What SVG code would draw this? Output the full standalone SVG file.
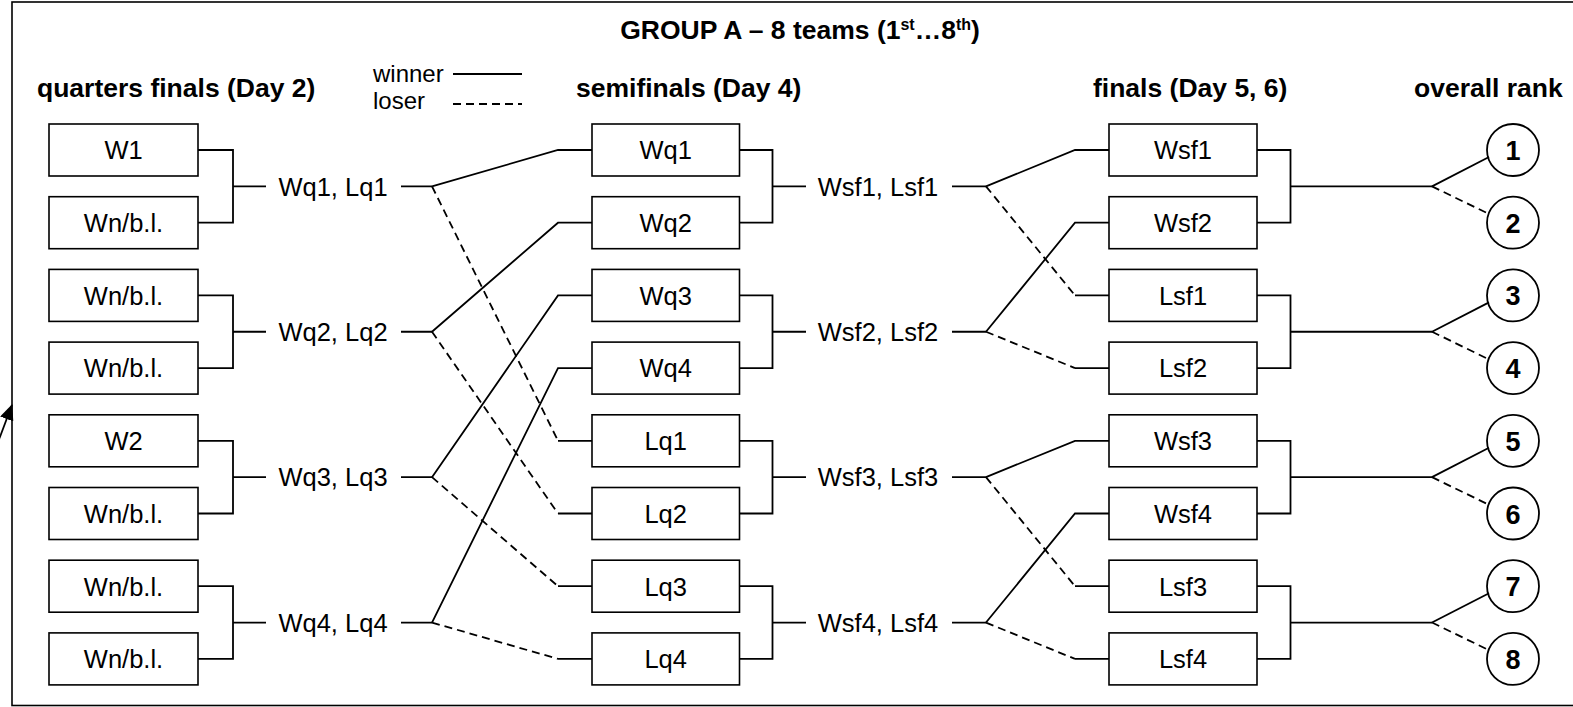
<svg xmlns="http://www.w3.org/2000/svg" width="1573" height="707" viewBox="0 0 1573 707">
<style>
.box{fill:#fff;stroke:#000;stroke-width:1.6}
.ln{fill:none;stroke:#000;stroke-width:1.8}
.ds{fill:none;stroke:#000;stroke-width:1.8;stroke-dasharray:8,5}
.t{font-family:"Liberation Sans",Arial,sans-serif;font-size:25.5px;fill:#000;text-anchor:middle}
.lg{font-family:"Liberation Sans",Arial,sans-serif;font-size:24px;fill:#000}
.h{font-family:"Liberation Sans",Arial,sans-serif;font-size:26.5px;font-weight:bold;fill:#000}
.c{fill:#fff;stroke:#000;stroke-width:1.8}
.n{font-family:"Liberation Sans",Arial,sans-serif;font-size:27px;font-weight:bold;fill:#000;text-anchor:middle}
</style>
<defs>
<marker id="ah" markerWidth="16" markerHeight="14" refX="15" refY="7" orient="auto" markerUnits="userSpaceOnUse"><path d="M0,0 L16,7 L0,14 z" fill="#000"/></marker>
</defs>
<rect x="12" y="2" width="1570" height="703.5" fill="#fff" stroke="#000" stroke-width="1.6"/>
<line x1="-2" y1="442" x2="12" y2="405" stroke="#000" stroke-width="1.8" marker-end="url(#ah)"/>

<g id="title">
<text class="h" x="800" y="39" text-anchor="middle">GROUP A – 8 teams (1<tspan font-size="16" dy="-9">st</tspan><tspan dy="9">…8</tspan><tspan font-size="16" dy="-9">th</tspan><tspan dy="9">)</tspan></text>
</g>
<g id="headers">
<text class="h" x="37" y="97">quarters finals (Day 2)</text>
<text class="h" x="576" y="97">semifinals (Day 4)</text>
<text class="h" x="1093" y="97">finals (Day 5, 6)</text>
<text class="h" x="1414" y="97">overall rank</text>
</g>
<g id="legend">
<text class="lg" x="373" y="82">winner</text>
<text class="lg" x="373" y="109">loser</text>
<line class="ln" x1="453" y1="74" x2="522" y2="74"/>
<line class="ds" x1="453" y1="104" x2="522" y2="104"/>
</g>

<g id="qf1"><rect class="box" x="49" y="124" width="149" height="52"/><text class="t" x="123.5" y="159.3">W1</text></g>
<g id="qf2"><rect class="box" x="49" y="196.7" width="149" height="52"/><text class="t" x="123.5" y="232">Wn/b.l.</text></g>
<g id="qf3"><rect class="box" x="49" y="269.4" width="149" height="52"/><text class="t" x="123.5" y="304.7">Wn/b.l.</text></g>
<g id="qf4"><rect class="box" x="49" y="342.1" width="149" height="52"/><text class="t" x="123.5" y="377.4">Wn/b.l.</text></g>
<g id="qf5"><rect class="box" x="49" y="414.8" width="149" height="52"/><text class="t" x="123.5" y="450.1">W2</text></g>
<g id="qf6"><rect class="box" x="49" y="487.5" width="149" height="52"/><text class="t" x="123.5" y="522.8">Wn/b.l.</text></g>
<g id="qf7"><rect class="box" x="49" y="560.2" width="149" height="52"/><text class="t" x="123.5" y="595.5">Wn/b.l.</text></g>
<g id="qf8"><rect class="box" x="49" y="632.9" width="149" height="52"/><text class="t" x="123.5" y="668.2">Wn/b.l.</text></g>

<g id="qfres">
<text class="t" x="333" y="195.6">Wq1, Lq1</text>
<text class="t" x="333" y="341">Wq2, Lq2</text>
<text class="t" x="333" y="486.4">Wq3, Lq3</text>
<text class="t" x="333" y="631.8">Wq4, Lq4</text>
</g>

<g id="sf1"><rect class="box" x="592" y="124" width="147.5" height="52"/><text class="t" x="665.7" y="159.3">Wq1</text></g>
<g id="sf2"><rect class="box" x="592" y="196.7" width="147.5" height="52"/><text class="t" x="665.7" y="232">Wq2</text></g>
<g id="sf3"><rect class="box" x="592" y="269.4" width="147.5" height="52"/><text class="t" x="665.7" y="304.7">Wq3</text></g>
<g id="sf4"><rect class="box" x="592" y="342.1" width="147.5" height="52"/><text class="t" x="665.7" y="377.4">Wq4</text></g>
<g id="sf5"><rect class="box" x="592" y="414.8" width="147.5" height="52"/><text class="t" x="665.7" y="450.1">Lq1</text></g>
<g id="sf6"><rect class="box" x="592" y="487.5" width="147.5" height="52"/><text class="t" x="665.7" y="522.8">Lq2</text></g>
<g id="sf7"><rect class="box" x="592" y="560.2" width="147.5" height="52"/><text class="t" x="665.7" y="595.5">Lq3</text></g>
<g id="sf8"><rect class="box" x="592" y="632.9" width="147.5" height="52"/><text class="t" x="665.7" y="668.2">Lq4</text></g>

<g id="sfres">
<text class="t" x="878" y="195.6">Wsf1, Lsf1</text>
<text class="t" x="878" y="341">Wsf2, Lsf2</text>
<text class="t" x="878" y="486.4">Wsf3, Lsf3</text>
<text class="t" x="878" y="631.8">Wsf4, Lsf4</text>
</g>

<g id="f1"><rect class="box" x="1109" y="124" width="148" height="52"/><text class="t" x="1183" y="159.3">Wsf1</text></g>
<g id="f2"><rect class="box" x="1109" y="196.7" width="148" height="52"/><text class="t" x="1183" y="232">Wsf2</text></g>
<g id="f3"><rect class="box" x="1109" y="269.4" width="148" height="52"/><text class="t" x="1183" y="304.7">Lsf1</text></g>
<g id="f4"><rect class="box" x="1109" y="342.1" width="148" height="52"/><text class="t" x="1183" y="377.4">Lsf2</text></g>
<g id="f5"><rect class="box" x="1109" y="414.8" width="148" height="52"/><text class="t" x="1183" y="450.1">Wsf3</text></g>
<g id="f6"><rect class="box" x="1109" y="487.5" width="148" height="52"/><text class="t" x="1183" y="522.8">Wsf4</text></g>
<g id="f7"><rect class="box" x="1109" y="560.2" width="148" height="52"/><text class="t" x="1183" y="595.5">Lsf3</text></g>
<g id="f8"><rect class="box" x="1109" y="632.9" width="148" height="52"/><text class="t" x="1183" y="668.2">Lsf4</text></g>

<g id="r1"><circle class="c" cx="1513" cy="150" r="26"/><text class="n" x="1513" y="160">1</text></g>
<g id="r2"><circle class="c" cx="1513" cy="222.7" r="26"/><text class="n" x="1513" y="232.7">2</text></g>
<g id="r3"><circle class="c" cx="1513" cy="295.4" r="26"/><text class="n" x="1513" y="305.4">3</text></g>
<g id="r4"><circle class="c" cx="1513" cy="368.1" r="26"/><text class="n" x="1513" y="378.1">4</text></g>
<g id="r5"><circle class="c" cx="1513" cy="440.8" r="26"/><text class="n" x="1513" y="450.8">5</text></g>
<g id="r6"><circle class="c" cx="1513" cy="513.5" r="26"/><text class="n" x="1513" y="523.5">6</text></g>
<g id="r7"><circle class="c" cx="1513" cy="586.2" r="26"/><text class="n" x="1513" y="596.2">7</text></g>
<g id="r8"><circle class="c" cx="1513" cy="658.9" r="26"/><text class="n" x="1513" y="668.9">8</text></g>

<g id="connectors">
<path class="ln" d="M198,150 H233 V222.7 H198 M233,186.35 H266 M401,186.35 H432"/>
<path class="ln" d="M198,295.4 H233 V368.1 H198 M233,331.75 H266 M401,331.75 H432"/>
<path class="ln" d="M198,440.8 H233 V513.5 H198 M233,477.15 H266 M401,477.15 H432"/>
<path class="ln" d="M198,586.2 H233 V658.9 H198 M233,622.55 H266 M401,622.55 H432"/>
<path class="ln" d="M432,186.35 L558,150 H592"/>
<path class="ln" d="M432,331.75 L558,222.7 H592"/>
<path class="ln" d="M432,477.15 L558,295.4 H592"/>
<path class="ln" d="M432,622.55 L558,368.1 H592"/>
<path class="ds" d="M432,186.35 L558,440.8"/>
<path class="ds" d="M432,331.75 L558,513.5"/>
<path class="ds" d="M432,477.15 L558,586.2"/>
<path class="ds" d="M432,622.55 L558,658.9"/>
<path class="ln" d="M558,440.8 H592 M558,513.5 H592 M558,586.2 H592 M558,658.9 H592"/>
<path class="ln" d="M739.5,150 H772.5 V222.7 H739.5 M772.5,186.35 H806 M952,186.35 H986"/>
<path class="ln" d="M739.5,295.4 H772.5 V368.1 H739.5 M772.5,331.75 H806 M952,331.75 H986"/>
<path class="ln" d="M739.5,440.8 H772.5 V513.5 H739.5 M772.5,477.15 H806 M952,477.15 H986"/>
<path class="ln" d="M739.5,586.2 H772.5 V658.9 H739.5 M772.5,622.55 H806 M952,622.55 H986"/>
<path class="ln" d="M986,186.35 L1075,150 H1109"/>
<path class="ln" d="M986,331.75 L1075,222.7 H1109"/>
<path class="ln" d="M986,477.15 L1075,440.8 H1109"/>
<path class="ln" d="M986,622.55 L1075,513.5 H1109"/>
<path class="ds" d="M986,186.35 L1075,295.4"/>
<path class="ds" d="M986,331.75 L1075,368.1"/>
<path class="ds" d="M986,477.15 L1075,586.2"/>
<path class="ds" d="M986,622.55 L1075,658.9"/>
<path class="ln" d="M1075,295.4 H1109 M1075,368.1 H1109 M1075,586.2 H1109 M1075,658.9 H1109"/>
<path class="ln" d="M1257,150 H1290.5 V222.7 H1257 M1290.5,186.35 H1432"/>
<path class="ln" d="M1257,295.4 H1290.5 V368.1 H1257 M1290.5,331.75 H1432"/>
<path class="ln" d="M1257,440.8 H1290.5 V513.5 H1257 M1290.5,477.15 H1432"/>
<path class="ln" d="M1257,586.2 H1290.5 V658.9 H1257 M1290.5,622.55 H1432"/>
<path class="ln" d="M1432,186.35 L1489,157"/>
<path class="ds" d="M1432,186.35 L1489,214"/>
<path class="ln" d="M1432,331.75 L1489,302.4"/>
<path class="ds" d="M1432,331.75 L1489,359.4"/>
<path class="ln" d="M1432,477.15 L1489,447.8"/>
<path class="ds" d="M1432,477.15 L1489,504.8"/>
<path class="ln" d="M1432,622.55 L1489,593.2"/>
<path class="ds" d="M1432,622.55 L1489,650.2"/>
</g>
</svg>
